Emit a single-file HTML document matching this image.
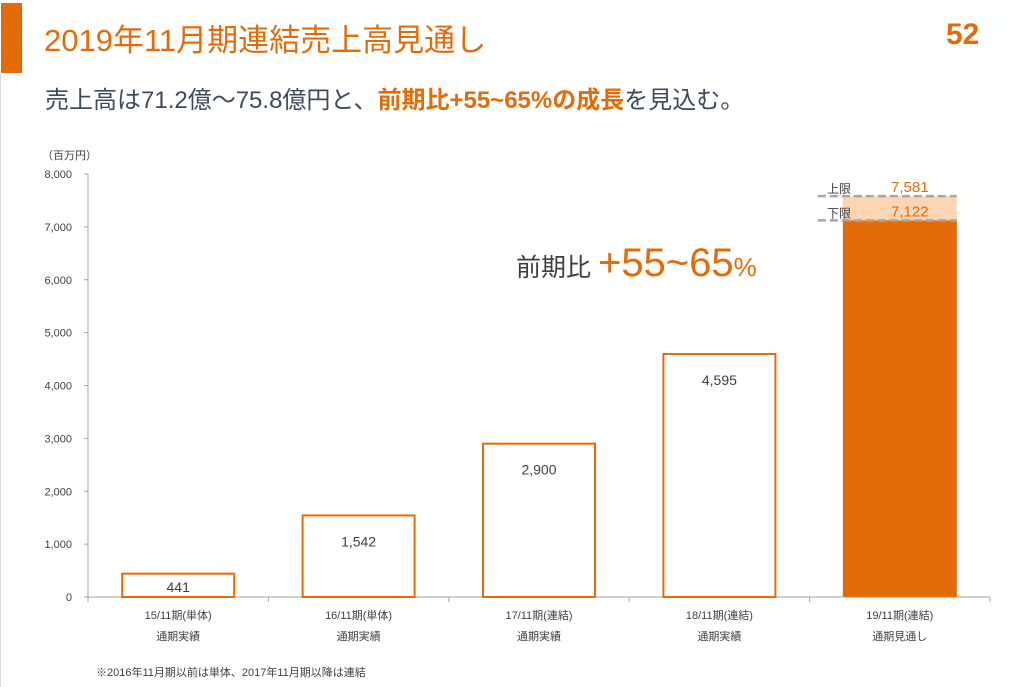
<!DOCTYPE html>
<html><head><meta charset="utf-8"><style>
body{margin:0;width:1025px;height:687px;background:#fff;font-family:"Liberation Sans","Noto Sans CJK JP",sans-serif;position:relative;overflow:hidden}
.t{position:absolute;white-space:nowrap}
</style></head><body>
<div style="position:absolute;left:1px;top:3px;width:21px;height:70px;background:#E36C09"></div>
<div style="position:absolute;left:0;top:73px;width:1px;height:614px;background:#ddd"></div>
<div class="t" style="left:44px;top:15px;font-size:31px;color:#E36C09;font-family:'Liberation Sans','Noto Sans CJK JP',sans-serif">2019年11月期連結売上高見通し</div>
<div class="t" style="left:946px;top:18px;font-size:30px;font-weight:bold;color:#E36C09">52</div>
<div class="t" style="left:45px;top:80px;font-size:24px;color:#3F4A5C">売上高は71.2億〜75.8億円と、<b style="color:#E36C09">前期比+55~65%の成長</b>を見込む。</div>
<div class="t" style="left:516px;top:241px;font-size:25px;color:#404040">前期比 <span style="color:#E36C09;font-size:40px">+55~65</span><span style="color:#E36C09;font-size:26px">%</span></div>
<div class="t" style="left:96px;top:664px;font-size:11px;color:#404040">※2016年11月期以前は単体、2017年11月期以降は連結</div>
<svg id="chart" width="1025" height="687" style="position:absolute;left:0;top:0"></svg>
<script>
const categories=["15/11期(単体)","16/11期(単体)","17/11期(連結)","18/11期(連結)","19/11期(連結)"];
const subLabels=["通期実績","通期実績","通期実績","通期実績","通期見通し"];
const values=[441,1542,2900,4595,7122];
const upperValue=[7581];
const yTicks=[0,1000,2000,3000,4000,5000,6000,7000,8000];
const tickLabels=["0","1,000","2,000","3,000","4,000","5,000","6,000","7,000","8,000"];
const NS="http://www.w3.org/2000/svg";
const svg=document.getElementById('chart');
const y0=597,yTop=174,yMax=8000,x0=88,xEnd=990;
const y=v=>y0-(v/yMax)*(y0-yTop);
const band=(xEnd-x0)/categories.length;
const xc=i=>x0+band*(i+0.5);
const bw=114;
function mk(tag,attrs,text){const e=document.createElementNS(NS,tag);for(const k in attrs)e.setAttribute(k,attrs[k]);if(text!==undefined)e.textContent=text;svg.appendChild(e);return e;}
const fmt=v=>v.toLocaleString('en-US');
let e=mk('line',{x1:x0,y1:yTop,x2:x0,y2:y0,stroke:'#A6A6A6'});


e=mk('line',{x1:x0,y1:y0,x2:xEnd,y2:y0,stroke:'#A6A6A6'});


e=mk('text',{x:42,y:159,'font-size':11,fill:'#404040'},'（百万円）');


yTicks.forEach((t,i)=>{
 let l=mk('line',{x1:x0-4,y1:y(t),x2:x0,y2:y(t),stroke:'#A6A6A6'});
 
 
 let tx=mk('text',{x:72,y:y(t)+4,'font-size':11,fill:'#404040','text-anchor':'end'},tickLabels[i]);
 
 
});
for(let i=0;i<=categories.length;i++){
 let l=mk('line',{x1:x0+band*i,y1:y0,x2:x0+band*i,y2:y0+5,stroke:'#A6A6A6'});
 
 
}
values.forEach((v,i)=>{
 const last=i===values.length-1;
 const cx=xc(i);
 if(last){
  let b=mk('rect',{x:cx-bw/2,y:y(upperValue[0]),width:bw,height:y(v)-y(upperValue[0]),fill:'#FCD5B5'});
  
  
  let r=mk('rect',{x:cx-bw/2,y:y(v),width:bw,height:y0-y(v),fill:'#E36C09'});
  
  
  [[upperValue[0],'上限','upper'],[v,'下限','lower']].forEach(([val,lab,n])=>{
   let dl=mk('line',{x1:cx-bw/2-25,y1:y(val),x2:cx+bw/2,y2:y(val),stroke:'#A6A6A6','stroke-width':2.5,'stroke-dasharray':'8,4'});
   
   
   let lt=mk('text',{x:827,y:y(val)-3,'font-size':12,fill:'#404040'},lab);
   
   
   let vt=mk('text',{x:cx+10,y:y(val)-4,'font-size':15,fill:'#E36C09','text-anchor':'middle'},fmt(val));
   
   
  });
 } else {
  let r=mk('rect',{x:cx-bw/2+1,y:y(v),width:bw-2,height:y0-y(v),fill:'#fff',stroke:'#E36C09','stroke-width':2});
  
  
  const ly=(y0-y(v))<40?y0-5:y(v)+31;
  let t=mk('text',{x:cx,y:ly,'font-size':14,fill:'#404040','text-anchor':'middle'},fmt(v));
  
  
 }
 let c=mk('text',{x:cx,y:619,'font-size':11,fill:'#404040','text-anchor':'middle'},categories[i]);
 
 
 let s=mk('text',{x:cx,y:640,'font-size':11,fill:'#404040','text-anchor':'middle'},subLabels[i]);
 
 
});
</script>
</body></html>
